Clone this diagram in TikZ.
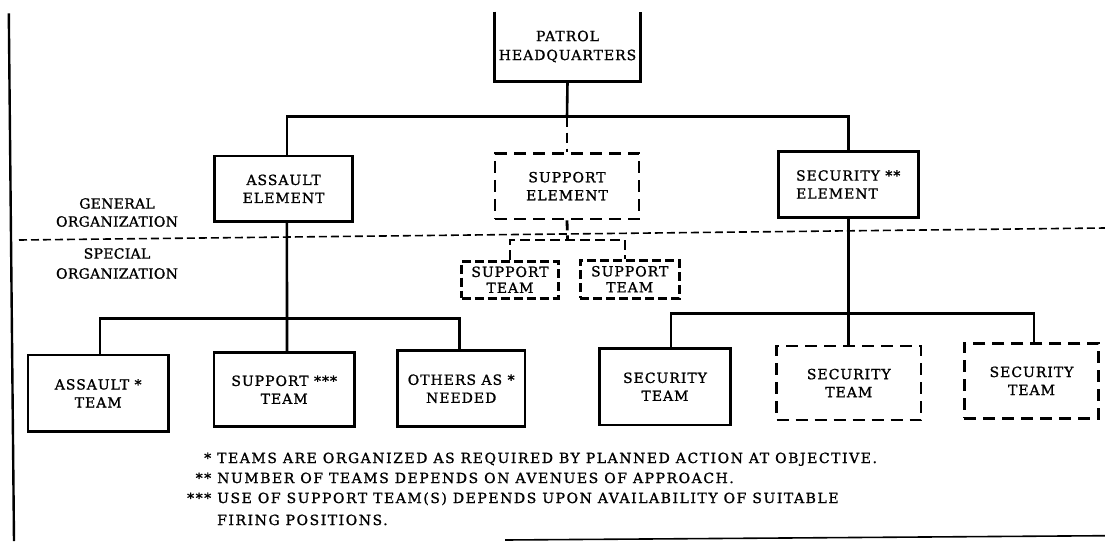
\documentclass[tikz,border=0pt]{standalone}
\usepackage{fontspec}
\setmainfont{DejaVu Serif}
\newfontfamily\boxfam{DejaVu Serif}[LetterSpace=7,FakeBold=1.2]
\newfontfamily\labfam{DejaVu Serif}[LetterSpace=2,FakeBold=1.2]
\newfontfamily\footfam{DejaVu Serif}[LetterSpace=11,FakeBold=1.2]
\newcommand\boxfont{\boxfam\fontsize{14}{18}\selectfont}
\newcommand\labfont{\labfam\fontsize{14}{18}\selectfont}
\newcommand\footfont{\footfam\fontsize{14}{18}\selectfont}
\tikzset{
  box/.style={draw, line width=2.8pt, inner sep=0pt, align=center, font=\boxfont},
  dbox/.style={box, dash pattern=on 12pt off 7pt},
  sbox/.style={box, line width=3pt, dash pattern=on 9pt off 4pt},
  link/.style={line width=2.6pt},
  dlink/.style={line width=2.4pt, dash pattern=on 10pt off 6pt},
  slink/.style={line width=2.8pt, dash pattern=on 10pt off 5pt},
  sep/.style={line width=1.6pt, dash pattern=on 8pt off 4pt},
  lab/.style={inner sep=0pt, align=center, font=\labfont},
  foot/.style={inner sep=0pt, anchor=base west, font=\footfont}
}
\begin{document}
\begin{tikzpicture}[x=1pt,y=-1pt]
\useasboundingbox (0,0) rectangle (1105,541);
% frame remnants
\draw[line width=2.4pt] (8.8,13.3) -- (14,541);
\draw[line width=1.6pt] (505,540) -- (1105,535.7);
% separator
\draw[sep] (19,240) -- (1105,228);
% labels
\node[lab] (gen) at (117,212.5) {GENERAL\\ORGANIZATION};
\node[lab] (spec) at (117,263.5) {SPECIAL\\[2pt]ORGANIZATION};
% headquarters (open top)
\node[box, draw=none, minimum width=143pt, minimum height=67pt] (hq) at (567.5,46.5) {PATROL\\[1pt]HEADQUARTERS};
\draw[line width=2.8pt] (hq.north west) -- (hq.south west) -- (hq.south east) -- (hq.north east);
% elements
\node[box, minimum width=137.8pt, minimum height=65.7pt] (ae) at (283.6,188.9) {ASSAULT\\ELEMENT};
\node[dbox, minimum width=144pt, minimum height=65.5pt] (se) at (567,186.2) {SUPPORT\\ELEMENT};
\node[box, align=left, minimum width=139.8pt, minimum height=65.6pt] (sec) at (848.2,184.5) {SECURITY **\\ELEMENT};
% support teams
\node[sbox, minimum width=96.6pt, minimum height=37.3pt] (st1) at (510,279.7) {SUPPORT\\[-2pt]TEAM};
\node[sbox, minimum width=99.3pt, minimum height=38.3pt] (st2) at (629.7,279.2) {SUPPORT\\[-2pt]TEAM};
% assault subtree
\node[box, minimum width=140.4pt, minimum height=76.7pt] (at) at (98.2,393.3) {ASSAULT *\\TEAM};
\node[box, minimum width=140.3pt, minimum height=74pt] (spt) at (284.2,389.7) {SUPPORT ***\\TEAM};
\node[box, minimum width=127.6pt, minimum height=76pt] (oth) at (461.2,388.7) {OTHERS AS *\\NEEDED};
% security subtree
\node[box, minimum width=131pt, minimum height=76.7pt] (sect1) at (665,386.7) {SECURITY\\TEAM};
\node[dbox, minimum width=144.5pt, minimum height=74pt] (sect2) at (848.8,383) {SECURITY\\TEAM};
\node[dbox, minimum width=134.5pt, minimum height=75pt] (sect3) at (1031.5,380.8) {SECURITY\\TEAM};
% connectors
\coordinate (bus) at (567,116.7);
\draw[link] (hq.south) -- (bus);
\draw[link] ([xshift=3.3pt]ae.north) |- (bus) -| (sec.north);
\draw[dlink] (bus) -- (se.north);
\coordinate (tbus) at (567.5,240);
\draw[slink] (se.south) -- (tbus);
\draw[slink] (st1.north) |- (tbus) -| ([xshift=-4.7pt]st2.north);
\draw[link] ([xshift=3.3pt]ae.south) -- ([xshift=2.8pt]spt.north);
\coordinate (abus) at (287,318.3);
\draw[link] ([xshift=1.8pt]at.north) |- (abus) -| ([xshift=-1.7pt]oth.north);
\draw[link] (sec.south) -- (sec.south |- sect2.north);
\coordinate (sbus) at (848.2,313.3);
\draw[link] ([xshift=6pt]sect1.north) |- (sbus) -| ([xshift=2.5pt]sect3.north);
% footnotes
\node[foot] (f1) at (217,463) {\llap{*\ }TEAMS ARE ORGANIZED AS REQUIRED BY PLANNED ACTION AT OBJECTIVE.};
\node[foot] (f2) at (217,483) {\llap{**\ }NUMBER OF TEAMS DEPENDS ON AVENUES OF APPROACH.};
\node[foot] (f3) at (217,503) {\llap{***\ }USE OF SUPPORT TEAM(S) DEPENDS UPON AVAILABILITY OF SUITABLE};
\node[foot] (f4) at (217,525) {FIRING POSITIONS.};
\end{tikzpicture}
\end{document}
